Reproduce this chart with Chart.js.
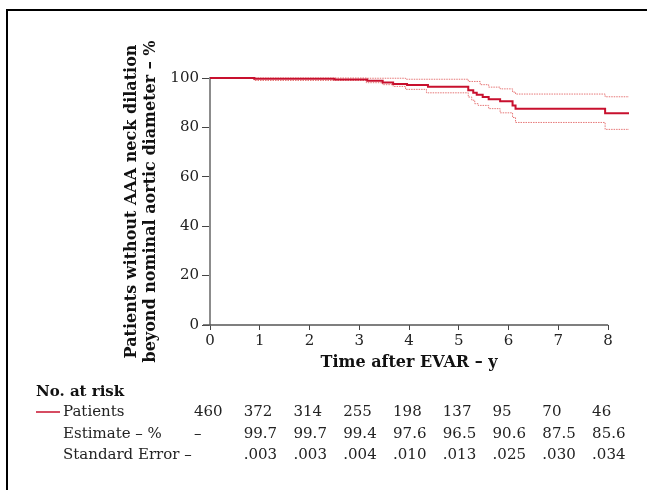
<!DOCTYPE html>
<html><head><meta charset="utf-8">
<script src="https://cdn.jsdelivr.net/npm/chart.js@4.4.1/dist/chart.umd.min.js"></script>
<style>html,body{margin:0;padding:0;background:#fff;overflow:hidden}#wrap{width:647px;height:490px;position:relative}</style>
</head><body><div id="wrap"><canvas id="c" width="647" height="490"></canvas></div>
<script>
// ---- data ----
const timeTicks = [0, 1, 2, 3, 4, 5, 6, 7, 8];
const yTicks = [0, 20, 40, 60, 80, 100];

const survTime = [0, 0.89, 2.5, 3.16, 3.47, 3.68, 3.96, 4.38, 5.19, 5.29, 5.36, 5.48, 5.60, 5.83, 6.08, 6.14, 7.94, 8.42];
const survPct  = [100, 99.7, 99.4, 98.9, 98.2, 97.6, 97.2, 96.5, 95.0, 94.0, 93.2, 92.3, 91.4, 90.6, 88.9, 87.6, 85.7, 85.7];

const upperTime = [0, 3.16, 3.93, 5.19, 5.43, 5.60, 5.83, 6.08, 6.14, 7.94, 8.42];
const upperPct  = [100, 99.9, 99.5, 98.6, 97.3, 96.3, 95.6, 94.3, 93.5, 92.4, 92.4];

const lowerTime = [0, 0.89, 3.14, 3.47, 3.68, 3.93, 4.35, 5.19, 5.26, 5.32, 5.39, 5.60, 5.83, 6.08, 6.14, 7.94, 8.42];
const lowerPct  = [100, 99.0, 98.1, 97.3, 96.6, 95.4, 94.0, 92.3, 91.0, 89.6, 88.9, 87.6, 85.9, 84.0, 82.0, 79.2, 79.2];

const atRisk     = ['460', '372', '314', '255', '198', '137', '95', '70', '46'];
const estimates  = ['–', '99.7', '99.7', '99.4', '97.6', '96.5', '90.6', '87.5', '85.6'];
const stdErrors  = ['', '.003', '.003', '.004', '.010', '.013', '.025', '.030', '.034'];

const yTitle = ['Patients without AAA neck dilation', 'beyond nominal aortic diameter – %'];
const xTitle = 'Time after EVAR – y';
const tableTitle = 'No. at risk';
const rowLabels = ['Patients', 'Estimate – %', 'Standard Error –'];

// ---- chart ----
const FONT = '"DejaVu Serif", serif';
const MAIN = '#c8102e';
const CI = 'rgba(226,95,95,0.85)';

const toPts = (xs, ys) => xs.map((x, i) => ({x: x, y: ys[i]}));

const extras = {
  id: 'extras',
  beforeDraw(chart) {
    const ctx = chart.ctx;
    ctx.save();
    ctx.fillStyle = '#000';
    ctx.fillRect(6, 9, 700, 2);
    ctx.fillRect(6, 9, 2, 600);
    ctx.restore();
  },
  afterDraw(chart) {
    const ctx = chart.ctx;
    const xs = chart.scales.x, ys = chart.scales.y;
    ctx.save();
    // x axis line 0..8
    const y0 = ys.getPixelForValue(0);
    ctx.strokeStyle = '#555';
    ctx.lineWidth = 1.5;
    ctx.beginPath();
    ctx.moveTo(xs.getPixelForValue(timeTicks[0]) - 7, y0);
    ctx.lineTo(xs.getPixelForValue(timeTicks[timeTicks.length - 1]), y0);
    ctx.stroke();
    // x title
    ctx.fillStyle = '#111';
    ctx.font = 'bold 16px ' + FONT;
    ctx.textAlign = 'center';
    ctx.textBaseline = 'middle';
    const cx = (xs.getPixelForValue(timeTicks[0]) + xs.getPixelForValue(timeTicks[timeTicks.length - 1])) / 2;
    ctx.fillText(xTitle, cx, 363);
    // table
    ctx.textAlign = 'left';
    ctx.font = 'bold 15px ' + FONT;
    ctx.fillStyle = '#111';
    ctx.fillText(tableTitle, 36, 392);
    ctx.font = '15px ' + FONT;
    ctx.fillStyle = '#222';
    const rows = [412, 434, 455];
    rowLabels.forEach((l, i) => ctx.fillText(l, 63, rows[i]));
    ctx.strokeStyle = MAIN;
    ctx.lineWidth = 1.5;
    ctx.beginPath();
    ctx.moveTo(36, rows[0]);
    ctx.lineTo(60, rows[0]);
    ctx.stroke();
    [atRisk, estimates, stdErrors].forEach((arr, r) => {
      arr.forEach((v, i) => {
        if (!v) return;
        ctx.fillText(v, xs.getPixelForValue(timeTicks[i]) - 16, rows[r]);
      });
    });
    ctx.restore();
  }
};

new Chart(document.getElementById('c'), {
  type: 'line',
  data: {
    datasets: [
      {label: 'Patients', data: toPts(survTime, survPct), borderColor: MAIN, borderWidth: 2, stepped: 'before', pointRadius: 0, fill: false, clip: false},
      {label: 'Upper', data: toPts(upperTime, upperPct), borderColor: CI, borderWidth: 1, borderDash: [1.5, 1], stepped: 'before', pointRadius: 0, fill: false, clip: false},
      {label: 'Lower', data: toPts(lowerTime, lowerPct), borderColor: CI, borderWidth: 1, borderDash: [1.5, 1], stepped: 'before', pointRadius: 0, fill: false, clip: false}
    ]
  },
  options: {
    responsive: false,
    animation: false,
    events: [],
    layout: {padding: {left: 122, top: 78, right: 18, bottom: 0}},
    plugins: {legend: {display: false}, tooltip: {enabled: false}},
    scales: {
      x: {
        type: 'linear', min: 0, max: 8.42,
        afterBuildTicks: s => { s.ticks = timeTicks.map(v => ({value: v})); },
        afterFit: s => { s.height = 165; },
        border: {display: false},
        grid: {drawOnChartArea: false, drawTicks: true, tickLength: 5, color: '#444', lineWidth: 1},
        ticks: {font: {family: FONT, size: 15}, color: '#222', padding: 2, maxRotation: 0}
      },
      y: {
        type: 'linear', min: 0, max: 100,
        afterBuildTicks: s => { s.ticks = yTicks.map(v => ({value: v})); },
        afterFit: s => { s.width = 88; },
        border: {display: true, color: '#8c8c8c', width: 2},
        grid: {drawOnChartArea: false, drawTicks: true, tickLength: 8, color: '#444', lineWidth: 1},
        ticks: {font: {family: FONT, size: 15}, color: '#222', padding: 3},
        title: {display: true, text: yTitle, color: '#111', font: {family: FONT, size: 16, weight: 'bold', lineHeight: 1.2}, padding: {top: 0, bottom: 0}}
      }
    }
  },
  plugins: [extras]
});
</script>
</body></html>
